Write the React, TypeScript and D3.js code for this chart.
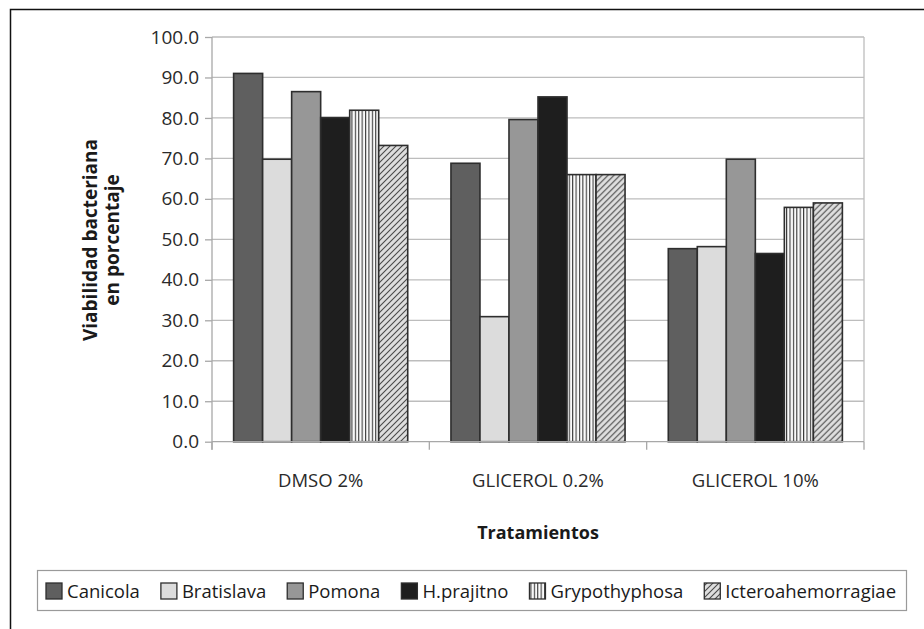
import React, { useEffect, useRef } from "react";
import * as d3 from "d3";

const categories = ["DMSO 2%", "GLICEROL 0.2%", "GLICEROL 10%"];
const seriesNames = ["Canicola", "Bratislava", "Pomona", "H.prajitno", "Grypothyphosa", "Icteroahemorragiae"];
const canicola = [91.0, 68.8, 47.7];
const bratislava = [69.8, 30.9, 48.2];
const pomona = [86.5, 79.6, 69.8];
const hprajitno = [80.1, 85.2, 46.5];
const grypothyphosa = [81.9, 66.0, 57.9];
const icteroahemorragiae = [73.2, 66.0, 59.0];
const seriesValues = [canicola, bratislava, pomona, hprajitno, grypothyphosa, icteroahemorragiae];
const yTicks = [0, 10, 20, 30, 40, 50, 60, 70, 80, 90, 100];
const fills = ["#5f5f5f", "#dcdcdc", "#979797", "#1e1e1e", "url(#vstripe)", "url(#diag)"];

const FONT = "'Open Sans', 'Noto Sans', sans-serif";

export default function App() {
  const ref = useRef<SVGSVGElement | null>(null);

  useEffect(() => {
    const svg = d3.select(ref.current);
    svg.selectAll("*").remove();

    const defs = svg.append("defs");
    const vs = defs.append("pattern").attr("id", "vstripe").attr("patternUnits", "userSpaceOnUse")
      .attr("width", 3.4).attr("height", 10);
    vs.append("rect").attr("width", 3.4).attr("height", 10).attr("fill", "#fafafa");
    vs.append("rect").attr("x", 0).attr("width", 1.1).attr("height", 10).attr("fill", "#3a3a3a");
    const dg = defs.append("pattern").attr("id", "diag").attr("patternUnits", "userSpaceOnUse")
      .attr("width", 6).attr("height", 6);
    dg.append("rect").attr("width", 6).attr("height", 6).attr("fill", "#dedede");
    dg.append("path").attr("d", "M0,6 L6,0 M-1,1 L1,-1 M5,7 L7,5")
      .attr("stroke", "#4a4a4a").attr("stroke-width", 1.1);

    // outer frame
    svg.append("rect").attr("x", 10.5).attr("y", 9.5).attr("width", 940).attr("height", 660)
      .attr("fill", "none").attr("stroke", "#111").attr("stroke-width", 1.5);

    const left = 212, right = 864, top = 37, bottom = 441.7;
    const x = d3.scaleBand<string>().domain(categories).range([left, right]).padding(0);
    const xs = d3.scaleBand<string>().domain(seriesNames).range([0, x.bandwidth()])
      .paddingInner(0).paddingOuter(0.745);
    const y = d3.scaleLinear().domain([0, 100]).range([bottom, top]);

    // gridlines
    svg.append("g").selectAll("line").data(yTicks.filter((t) => t > 0)).join("line")
      .attr("x1", left).attr("x2", right)
      .attr("y1", (d) => y(d)).attr("y2", (d) => y(d))
      .attr("stroke", "#bdbdbd").attr("stroke-width", 1.3);
    // right border of plot
    svg.append("line").attr("x1", right).attr("x2", right).attr("y1", top).attr("y2", bottom)
      .attr("stroke", "#bdbdbd").attr("stroke-width", 1.3);

    // y axis
    const yAxis = svg.append("g").attr("transform", `translate(${left},0)`)
      .call(d3.axisLeft(y).tickValues(yTicks).tickSize(7).tickPadding(6).tickFormat((d) => d3.format(".1f")(d as number)));
    yAxis.select(".domain").attr("stroke", "#a8a8a8").attr("stroke-width", 1.3)
      .attr("d", `M0,${top}V${bottom + 8}`);
    yAxis.selectAll(".tick line").attr("stroke", "#a8a8a8").attr("stroke-width", 1.3);
    yAxis.selectAll(".tick text").attr("font-family", FONT).attr("font-size", 19).attr("fill", "#2a2a2a");

    // bars
    const groups = svg.append("g").selectAll("g").data(categories).join("g")
      .attr("transform", (c) => `translate(${x(c)},0)`);
    groups.selectAll("rect")
      .data((c, ci) => seriesNames.map((s, si) => ({ s, si, v: seriesValues[si][ci] })))
      .join("rect")
      .attr("x", (d) => xs(d.s)!)
      .attr("width", xs.bandwidth())
      .attr("y", (d) => y(d.v))
      .attr("height", (d) => y(0) - y(d.v))
      .attr("fill", (d) => fills[d.si])
      .attr("stroke", "#2e2e2e").attr("stroke-width", 1.6);

    // x axis
    const xAxisG = svg.append("g").attr("transform", `translate(0,${bottom})`);
    xAxisG.append("line").attr("x1", left).attr("x2", right).attr("y1", 0).attr("y2", 0)
      .attr("stroke", "#a8a8a8").attr("stroke-width", 1.3);
    const bounds = categories.map((c) => x(c)!).concat([right]);
    xAxisG.selectAll("line.tk").data(bounds).join("line").attr("class", "tk")
      .attr("x1", (d) => d).attr("x2", (d) => d).attr("y1", 0).attr("y2", 8)
      .attr("stroke", "#a8a8a8").attr("stroke-width", 1.3);
    xAxisG.selectAll("text").data(categories).join("text")
      .attr("x", (c) => x(c)! + x.bandwidth() / 2).attr("y", 45)
      .attr("text-anchor", "middle").attr("font-family", FONT).attr("font-size", 18.5)
      .attr("fill", "#2a2a2a").text((c) => c);

    // axis titles
    svg.append("text").attr("x", 538).attr("y", 539).attr("text-anchor", "middle")
      .attr("font-family", FONT).attr("font-size", 18).attr("font-weight", "bold")
      .attr("fill", "#1a1a1a").text("Tratamientos");
    const yt = svg.append("g").attr("transform", "translate(97,240) rotate(-90)");
    yt.append("text").attr("x", 0).attr("y", 0).attr("text-anchor", "middle")
      .attr("font-family", FONT).attr("font-size", 19).attr("font-weight", "bold")
      .attr("fill", "#1a1a1a").text("Viabilidad bacteriana");
    yt.append("text").attr("x", 0).attr("y", 22).attr("text-anchor", "middle")
      .attr("font-family", FONT).attr("font-size", 19).attr("font-weight", "bold")
      .attr("fill", "#1a1a1a").text("en porcentaje");

    // legend
    svg.append("rect").attr("x", 37.5).attr("y", 570.5).attr("width", 869).attr("height", 40)
      .attr("fill", "#fff").attr("stroke", "#9a9a9a").attr("stroke-width", 1.2);
    const lg = svg.append("g");
    let cx = 46;
    seriesNames.forEach((s, i) => {
      lg.append("rect").attr("x", cx).attr("y", 583).attr("width", 16).attr("height", 16)
        .attr("fill", fills[i]).attr("stroke", "#2e2e2e").attr("stroke-width", 1.3);
      const t = lg.append("text").attr("x", cx + 21).attr("y", 598)
        .attr("font-family", FONT).attr("font-size", 18.5).attr("fill", "#1a1a1a").text(s);
      const w = (t.node() as SVGTextElement).getComputedTextLength();
      cx = cx + 21 + w + 21;
    });
  }, []);

  return (
    <svg ref={ref} width={924} height={629}
      style={{ position: "absolute", left: 0, top: 0, background: "#fff" }} />
  );
}
